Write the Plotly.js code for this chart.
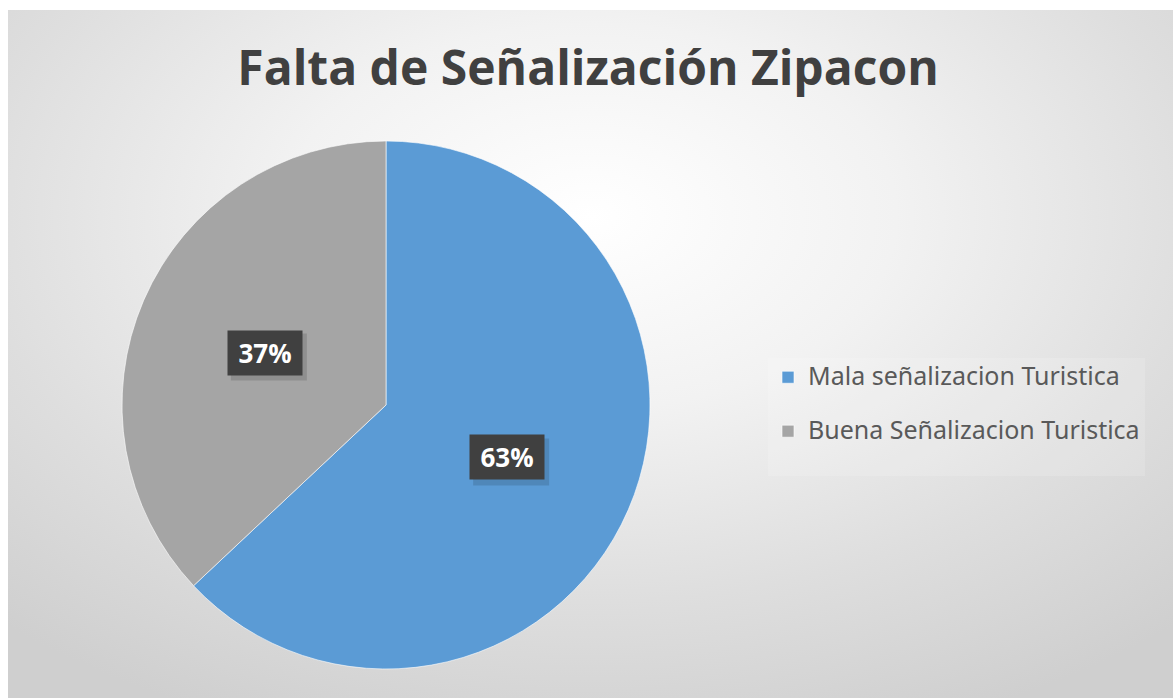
<!DOCTYPE html>
<html>
<head>
<meta charset="utf-8">
<script src="https://cdn.plot.ly/plotly-3.0.1.min.js"></script>
<style>
  html, body { margin: 0; padding: 0; background: #ffffff; }
  #bg { position: absolute; left: 8px; top: 10px; width: 1165px; height: 688px;
        background: radial-gradient(ellipse 75% 80% at 50% 30%, #ffffff 0%, #f2f2f2 35%, #dedede 70%, #cfcfcf 100%); }
  #chart { position: absolute; left: 0; top: 0; width: 1173px; height: 698px; }
</style>
</head>
<body>
<div id="bg"></div>
<div id="chart"></div>
<script>
const title = "Falta de Señalización Zipacon";
const categories = ["Mala señalizacion Turistica", "Buena Señalizacion Turistica"];
const values = [63, 37];
const colors = ["#5B9BD5", "#A5A5A5"];

const W = 1173, H = 698;
const cxPx = 386, cyPx = 405, rPx = 264;
const domX = [(cxPx - rPx) / W, (cxPx + rPx) / W];
const domY = [1 - (cyPx + rPx) / H, 1 - (cyPx - rPx) / H];

// label positions: midpoint angle of each slice (clockwise from 12 o'clock), at half radius
const total = values.reduce((a, b) => a + b, 0);
let acc = 0;
const annotations = [];
const shapes = [];
const boxW = 74, boxH = 44;
values.forEach((v, i) => {
  const mid = (acc + v / 2) / total * 2 * Math.PI;
  acc += v;
  const px = cxPx + 0.5 * rPx * Math.sin(mid);
  const py = cyPx - 0.5 * rPx * Math.cos(mid);
  // soft shadow behind the label box
  shapes.push({
    type: "rect", xref: "paper", yref: "paper", layer: "above",
    x0: (px - boxW / 2 + 3) / W, x1: (px + boxW / 2 + 5) / W,
    y0: 1 - (py + boxH / 2 + 6) / H, y1: 1 - (py - boxH / 2 + 3) / H,
    fillcolor: "rgba(0,0,0,0.13)", line: { width: 0 }
  });
  annotations.push({
    x: px / W, y: 1 - py / H, xref: "paper", yref: "paper",
    xanchor: "center", yanchor: "middle",
    text: "<b>" + Math.round(v / total * 100) + "%</b>", showarrow: false,
    font: { family: "Open Sans, sans-serif", size: 26, color: "#ffffff" },
    bgcolor: "#404040", width: boxW, height: boxH, borderpad: 0
  });
});

const trace = {
  type: "pie",
  labels: categories.map(c => '<span style="font-size:25px">' + c + '</span><br> '),
  values: values,
  sort: false,
  direction: "clockwise",
  rotation: 0,
  marker: { colors: colors, line: { color: "rgba(255,255,255,0.6)", width: 1 } },
  textinfo: "none",
  hoverinfo: "none",
  domain: { x: domX, y: domY }
};

const layout = {
  width: W, height: H,
  margin: { l: 0, r: 0, t: 0, b: 0 },
  paper_bgcolor: "rgba(0,0,0,0)",
  plot_bgcolor: "rgba(0,0,0,0)",
  title: {
    text: "<b>" + title + "</b>",
    x: 588 / W, xanchor: "center",
    y: 1 - 68 / H, yanchor: "middle",
    font: { family: "Open Sans, Noto Sans, sans-serif", size: 48, color: "#404040" }
  },
  showlegend: true,
  legend: {
    x: 768 / W, xanchor: "left",
    y: 1 - 358 / H, yanchor: "top",
    valign: "top",
    bgcolor: "rgba(255,255,255,0.15)",
    font: { family: "Noto Sans, sans-serif", size: 19.6, color: "#595959" },
    itemclick: false, itemdoubleclick: false
  },
  shapes: shapes,
  annotations: annotations
};

Plotly.newPlot("chart", [trace], layout, { displayModeBar: false, staticPlot: true });
</script>
</body>
</html>
